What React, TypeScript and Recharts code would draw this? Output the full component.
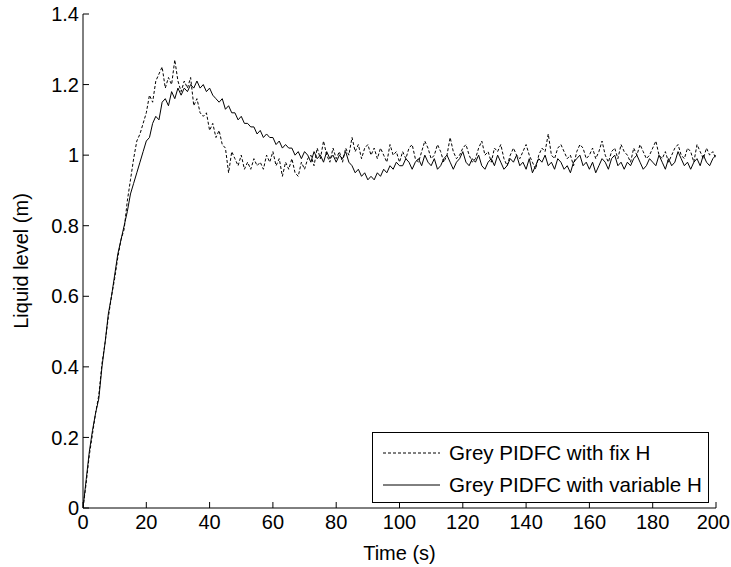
import React from 'react';
import { LineChart, Line, XAxis, YAxis, Legend, Label } from 'recharts';

const time = [
  0, 1, 2, 3, 4, 5, 6, 7, 8, 9, 10, 11, 12, 13, 14, 15, 16, 17, 18, 19,
  20, 21, 22, 23, 24, 25, 26, 27, 28, 29, 30, 31, 32, 33, 34, 35, 36, 37, 38, 39,
  40, 41, 42, 43, 44, 45, 46, 47, 48, 49, 50, 51, 52, 53, 54, 55, 56, 57, 58, 59,
  60, 61, 62, 63, 64, 65, 66, 67, 68, 69, 70, 71, 72, 73, 74, 75, 76, 77, 78, 79,
  80, 81, 82, 83, 84, 85, 86, 87, 88, 89, 90, 91, 92, 93, 94, 95, 96, 97, 98, 99,
  100, 101, 102, 103, 104, 105, 106, 107, 108, 109, 110, 111, 112, 113, 114, 115, 116, 117, 118, 119,
  120, 121, 122, 123, 124, 125, 126, 127, 128, 129, 130, 131, 132, 133, 134, 135, 136, 137, 138, 139,
  140, 141, 142, 143, 144, 145, 146, 147, 148, 149, 150, 151, 152, 153, 154, 155, 156, 157, 158, 159,
  160, 161, 162, 163, 164, 165, 166, 167, 168, 169, 170, 171, 172, 173, 174, 175, 176, 177, 178, 179,
  180, 181, 182, 183, 184, 185, 186, 187, 188, 189, 190, 191, 192, 193, 194, 195, 196, 197, 198, 199,
  200,
];

// Grey PIDFC with fix H (dashed)
const fixH = [
  0, 0.07, 0.15, 0.21, 0.27, 0.32, 0.41, 0.47, 0.54, 0.6, 0.65, 0.71, 0.76, 0.79, 0.87, 0.93, 0.99, 1.04, 1.06, 1.09,
  1.12, 1.17, 1.15, 1.21, 1.23, 1.25, 1.19, 1.22, 1.2, 1.27, 1.21, 1.18, 1.21, 1.19, 1.22, 1.14, 1.16, 1.12, 1.11, 1.12,
  1.07, 1.09, 1.05, 1.07, 1.03, 1.02, 0.95, 1.01, 0.99, 0.97, 1.0, 0.96, 0.98, 0.96, 0.99, 0.97, 0.98, 0.96, 1.0, 0.98,
  1.01, 0.97, 0.99, 0.94, 0.98, 0.96, 0.99, 0.95, 0.94, 0.98, 0.96, 0.99, 1.0, 0.97, 1.02, 0.99, 1.04, 1.0, 0.98, 1.02,
  0.99, 1.01, 0.98, 1.02, 1.0, 1.05, 1.01, 1.03, 0.99, 1.02, 1.03, 1.0, 1.02, 0.99, 1.02, 1.0, 0.98, 1.03, 1.0, 1.01,
  0.98, 1.01, 0.99, 1.02, 1.03, 0.99, 0.98, 1.01, 1.04, 1.02, 0.99, 1.0, 1.03, 1.01, 0.98, 1.0, 1.05, 1.01, 0.99, 1.0,
  1.02, 1.03, 1.0, 0.98, 0.99, 1.02, 1.04, 1.0, 1.01, 0.98, 1.02, 1.01, 1.03, 0.99, 0.97, 1.0, 1.02, 1.0, 0.99, 1.01,
  1.03, 1.0, 0.98, 0.96, 1.0, 1.02, 1.01, 1.06, 1.0, 0.99, 1.02, 1.03, 1.01, 0.99, 1.0, 0.97, 1.01, 1.03, 1.02, 0.99,
  1.0, 1.02, 0.99, 1.01, 1.04, 1.0, 0.98, 1.01, 1.02, 0.99, 1.03, 1.01, 1.0, 0.98, 1.02, 1.0, 1.03, 1.01, 0.99, 1.0,
  1.02, 1.04, 1.0, 0.99, 1.01, 0.98, 1.0, 1.02, 1.03, 1.0, 0.99, 1.02, 1.01, 0.98, 1.03, 1.01, 0.99, 1.02, 1.0, 1.01,
  0.99,
];

// Grey PIDFC with variable H (solid)
const varH = [
  0, 0.08, 0.16, 0.22, 0.27, 0.31, 0.4, 0.47, 0.55, 0.6, 0.66, 0.72, 0.76, 0.8, 0.84, 0.89, 0.92, 0.95, 0.98, 1.01,
  1.04, 1.05, 1.09, 1.11, 1.1, 1.15, 1.16, 1.14, 1.18, 1.16, 1.19, 1.17, 1.19, 1.18, 1.2, 1.19, 1.21, 1.19, 1.2, 1.18,
  1.19, 1.17, 1.16, 1.15, 1.16, 1.13, 1.14, 1.12, 1.12, 1.1, 1.11, 1.09, 1.09, 1.08, 1.08, 1.06, 1.07, 1.05, 1.06, 1.05,
  1.05, 1.03, 1.04, 1.02, 1.03, 1.02, 1.02, 1.0, 1.01, 0.99, 1.01, 1.0, 0.98, 1.01, 0.99, 1.0, 0.98, 1.01, 0.99, 1.0,
  0.98, 1.0, 0.99, 1.01, 0.98, 0.97, 0.95, 0.96, 0.94, 0.95, 0.93, 0.94, 0.93, 0.95, 0.94, 0.96, 0.95, 0.97, 0.96, 0.98,
  0.97, 0.97, 0.99, 0.98, 0.96, 0.98, 0.99, 0.97, 1.0, 0.98, 0.97, 0.99, 0.96, 0.97, 0.99, 1.0, 0.98, 0.96, 0.98, 0.99,
  1.01, 0.98, 0.97, 0.99, 0.98, 1.0, 0.97, 0.96, 0.98, 0.99, 0.97, 1.0, 0.98, 0.96, 0.97, 0.99, 0.98, 1.0, 0.97, 0.98,
  0.96, 0.99, 0.95, 0.97, 0.99, 0.98, 1.0, 0.97, 0.98, 0.96, 0.99, 0.98, 0.96, 0.97, 0.95, 0.98, 0.99, 1.0, 0.97, 0.98,
  0.96, 0.98, 0.95, 0.97, 0.99, 0.98, 0.96, 0.99, 1.0, 0.97, 0.98, 0.96, 0.98, 0.97, 0.99, 1.0, 0.98, 0.96, 0.97, 0.99,
  0.98, 0.97, 1.0, 0.98, 0.96, 0.99, 0.97, 0.98, 1.01, 0.99, 0.97, 0.98, 0.96, 0.98, 0.99, 0.97, 1.0, 0.98, 0.97, 0.99,
  1.0,
];

const xTicks = [0, 20, 40, 60, 80, 100, 120, 140, 160, 180, 200];
const yTicks = [0, 0.2, 0.4, 0.6, 0.8, 1, 1.2, 1.4];
const seriesNames = ['Grey PIDFC with fix H', 'Grey PIDFC with variable H'];

const data = time.map((t, i) => ({ t, fix: fixH[i], variable: varH[i] }));

const FONT = '"Liberation Sans", Arial, Helvetica, sans-serif';
const FS = 20;
const LFS = 20.6;
const TL = 6;

const BottomTick = (props: any) => {
  const { x, y, payload, index, visibleTicksCount } = props;
  const isLast = payload.value === xTicks[xTicks.length - 1];
  return (
    <g>
      <line x1={x} x2={x} y1={y} y2={y - TL} stroke="#000" strokeWidth={1} />
      <text
        x={isLast ? x + 14 : x}
        y={y + 21}
        textAnchor={isLast ? 'end' : 'middle'}
        fontSize={FS}
        fontFamily={FONT}
        fill="#000"
      >
        {payload.value}
      </text>
    </g>
  );
};

const LeftTick = (props: any) => {
  const { x, y, payload } = props;
  return (
    <g>
      <line x1={x} x2={x + TL} y1={y} y2={y} stroke="#000" strokeWidth={1} />
      <text x={x - 4} y={y} dy="0.36em" textAnchor="end" fontSize={FS} fontFamily={FONT} fill="#000">
        {payload.value}
      </text>
    </g>
  );
};

const TopTick = (props: any) => {
  const { x, y } = props;
  return <line x1={x} x2={x} y1={y} y2={y + TL} stroke="#000" strokeWidth={1} />;
};

const RightTick = (props: any) => {
  const { x, y } = props;
  return <line x1={x} x2={x - TL} y1={y} y2={y} stroke="#000" strokeWidth={1} />;
};

const LegendBox = () => (
  <svg width={337} height={71} style={{ display: 'block' }}>
    <rect x={0.5} y={0.5} width={336} height={70} fill="#fff" stroke="#000" strokeWidth={1} />
    <line x1={11} x2={68} y1={21} y2={21} stroke="#000" strokeWidth={1} strokeDasharray="3 2" />
    <text x={77} y={21} dy="0.36em" fontSize={LFS} fontFamily={FONT} fill="#000">
      {seriesNames[0]}
    </text>
    <line x1={11} x2={68} y1={53} y2={53} stroke="#000" strokeWidth={1} />
    <text x={77} y={53} dy="0.36em" fontSize={LFS} fontFamily={FONT} fill="#000">
      {seriesNames[1]}
    </text>
  </svg>
);

const YLabel = (props: any) => {
  const vb = props.viewBox || { x: 0, y: 14, width: 83, height: 494 };
  const cx = vb.x + 21;
  const cy = vb.y + vb.height / 2;
  return (
    <text
      x={cx}
      y={cy}
      transform={`rotate(-90 ${cx} ${cy})`}
      textAnchor="middle"
      dy="0.36em"
      fontSize={FS}
      fontFamily={FONT}
      fill="#000"
    >
      Liquid level (m)
    </text>
  );
};

const XLabel = (props: any) => {
  const vb = props.viewBox || { x: 83, y: 508, width: 633, height: 59 };
  const cx = vb.x + vb.width / 2;
  return (
    <text x={cx} y={vb.y + 52} textAnchor="middle" fontSize={FS} fontFamily={FONT} fill="#000">
      Time (s)
    </text>
  );
};

export default function App() {
  return (
    <div style={{ position: 'absolute', left: 0, top: 0, width: 731, height: 567, background: '#fff' }}>
      <LineChart width={731} height={567} data={data} margin={{ top: 14, right: 15, bottom: 0, left: 0 }}>
        <XAxis
          dataKey="t"
          type="number"
          domain={[0, 200]}
          ticks={xTicks}
          height={59}
          tickSize={0}
          tickMargin={0}
          tick={<BottomTick />}
          axisLine={{ stroke: '#000' }}
          interval={0}
          allowDataOverflow
        >
          <Label content={<XLabel />} />
        </XAxis>
        <XAxis
          xAxisId="top"
          orientation="top"
          dataKey="t"
          type="number"
          domain={[0, 200]}
          ticks={xTicks}
          height={0}
          tickSize={0}
          tickMargin={0}
          tick={<TopTick />}
          axisLine={{ stroke: '#000' }}
          interval={0}
        />
        <YAxis
          type="number"
          domain={[0, 1.4]}
          ticks={yTicks}
          width={83}
          tickSize={0}
          tickMargin={0}
          tick={<LeftTick />}
          axisLine={{ stroke: '#000' }}
          interval={0}
          allowDataOverflow
        >
          <Label content={<YLabel />} />
        </YAxis>
        <YAxis
          yAxisId="right"
          orientation="right"
          type="number"
          domain={[0, 1.4]}
          ticks={yTicks}
          width={0}
          tickSize={0}
          tickMargin={0}
          tick={<RightTick />}
          axisLine={{ stroke: '#000' }}
          interval={0}
        />
        <Legend
          layout="horizontal"
          verticalAlign="middle"
          align="center"
          content={<LegendBox />}
          wrapperStyle={{ position: 'absolute', left: 372, top: 432, width: 337, height: 71 }}
        />
        <Line
          type="linear"
          dataKey="fix"
          name={seriesNames[0]}
          stroke="#000"
          strokeWidth={1}
          strokeDasharray="3 2"
          dot={false}
          activeDot={false}
          isAnimationActive={false}
        />
        <Line
          type="linear"
          dataKey="variable"
          name={seriesNames[1]}
          stroke="#000"
          strokeWidth={1}
          dot={false}
          activeDot={false}
          isAnimationActive={false}
        />
      </LineChart>
    </div>
  );
}
